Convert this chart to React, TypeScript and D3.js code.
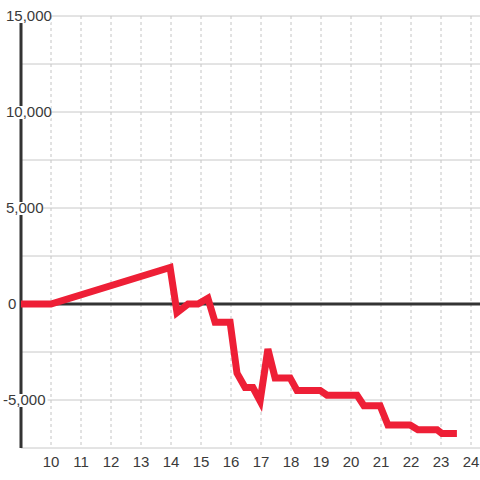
import React from "react";
import * as d3 from "d3";

const hours = [9, 10, 13.97, 14.2, 14.57, 14.9, 15.23, 15.47, 15.97, 16.2, 16.47, 16.73, 16.97, 17.23, 17.47, 17.97, 18.2, 18.97, 19.2, 20.2, 20.43, 20.97, 21.23, 21.97, 22.23, 22.87, 23.03, 23.53];
const values = [0, 0, 1900, -450, 0, 0, 300, -950, -950, -3600, -4350, -4350, -5050, -2350, -3850, -3850, -4500, -4500, -4750, -4750, -5300, -5300, -6300, -6300, -6550, -6550, -6750, -6750];
const xTicks = [10, 11, 12, 13, 14, 15, 16, 17, 18, 19, 20, 21, 22, 23, 24];
const yGrid = [-7500, -5000, -2500, 0, 2500, 5000, 7500, 10000, 12500, 15000];
const yLabels = [-5000, 0, 5000, 10000, 15000];

const W = 480;
const H = 480;
const left = 21;
const top = 16;
const bottom = 448;

export default function App() {
  const x = d3.scaleLinear().domain([9, 24.3]).range([left, W]);
  const y = d3.scaleLinear().domain([-7500, 15000]).range([bottom, top]);
  const fmt = d3.format(",");
  const line = d3
    .line<number>()
    .x((_, i) => x(hours[i]))
    .y((d) => y(d));
  const font = "'Liberation Sans', Arial, sans-serif";
  return (
    <svg
      width={W}
      height={H}
      style={{ position: "absolute", left: 0, top: 0, background: "#fff" }}
      fontFamily={font}
    >
      {xTicks.map((t) => (
        <line
          key={"vx" + t}
          x1={x(t)}
          x2={x(t)}
          y1={top}
          y2={bottom}
          stroke="#c4c4c4"
          strokeDasharray="3,3"
          strokeWidth={1}
        />
      ))}
      {yGrid.map((t) => (
        <line
          key={"hy" + t}
          x1={left}
          x2={W}
          y1={y(t)}
          y2={y(t)}
          stroke="#c8c8c8"
          strokeWidth={1}
        />
      ))}
      <line x1={left} x2={W} y1={y(0)} y2={y(0)} stroke="#333" strokeWidth={3} />
      <line x1={left} x2={left} y1={top} y2={bottom} stroke="#333" strokeWidth={3} />
      <path
        d={line(values) || ""}
        fill="none"
        stroke="#ee1f36"
        strokeWidth={7}
        strokeLinejoin="miter"
      />
      {yLabels.map((t) => {
        const label = fmt(t).replace("−", "-");
        const tx = t < 0 ? 3 : t === 0 ? 8 : 6;
        const w = label.length * 7.6 + (label.includes(",") ? -4 : 0);
        return (
          <g key={"yl" + t}>
            <rect x={tx - 2} y={y(t) - 6} width={w + 5} height={13} fill="#fff" />
            <text x={tx} y={y(t)} dy="0.36em" fontSize={15} fill="#3a3a3a">
              {label}
            </text>
          </g>
        );
      })}
      {xTicks.map((t) => (
        <text
          key={"xl" + t}
          x={x(t)}
          y={462}
          dy="0.36em"
          textAnchor="middle"
          fontSize={15}
          fill="#3a3a3a"
        >
          {t}
        </text>
      ))}
    </svg>
  );
}
